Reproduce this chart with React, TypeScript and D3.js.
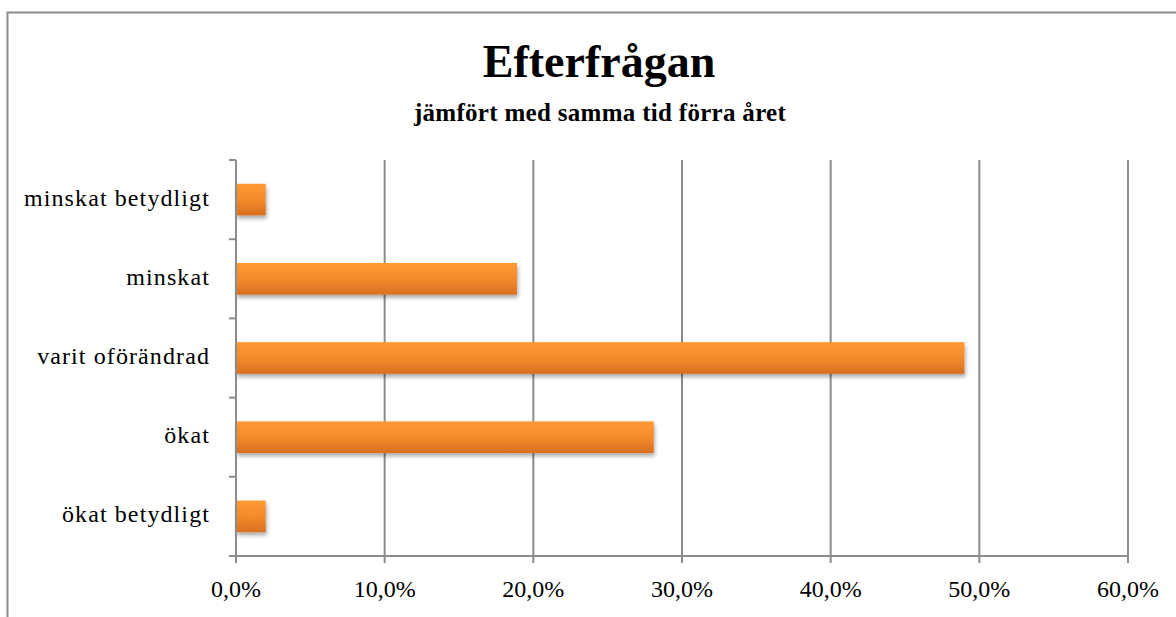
import React from "react";
import * as d3 from "d3";

const categories = ["minskat betydligt", "minskat", "varit oförändrad", "ökat", "ökat betydligt"];
const values = [2.0, 18.9, 49.0, 28.1, 2.0];
const xTicks = [0, 10, 20, 30, 40, 50, 60];
const title = "Efterfrågan";
const subtitle = "jämfört med samma tid förra året";

const W = 1176;
const H = 617;
const FONT = "'Liberation Serif', 'DejaVu Serif', serif";

export default function App() {
  const x = d3.scaleLinear().domain([0, 60]).range([236, 1128]);
  const y = d3.scaleBand().domain(categories).range([160, 556]).paddingInner(0).paddingOuter(0);
  const bw = y.bandwidth();
  const barH = bw * 0.4;
  const fmt = (v: number) => v.toFixed(1).replace(".", ",") + "%";
  const bandEdges = categories.map((c) => y(c) as number).concat([556]);

  return (
    <svg width={W} height={H} style={{ position: "absolute", left: 0, top: 0, background: "#fff" }}>
      <defs>
        <linearGradient id="barGrad" x1="0" y1="0" x2="0" y2="1">
          <stop offset="0" stopColor="#FF9A33" />
          <stop offset="0.5" stopColor="#F58A2C" />
          <stop offset="1" stopColor="#D96F20" />
        </linearGradient>
        <filter id="shadow" x="-10%" y="-30%" width="130%" height="180%">
          <feGaussianBlur in="SourceAlpha" stdDeviation="2" />
          <feOffset dx="1" dy="3" result="b" />
          <feComponentTransfer>
            <feFuncA type="linear" slope="0.35" />
          </feComponentTransfer>
          <feMerge>
            <feMergeNode />
            <feMergeNode in="SourceGraphic" />
          </feMerge>
        </filter>
      </defs>
      <rect x={7.5} y={12.5} width={W + 20} height={H + 20} fill="none" stroke="#8c8c8c" strokeWidth={2} />
      <text x={599} y={77} textAnchor="middle" fontFamily={FONT} fontWeight="bold" fontSize={46} fill="#000">
        {title}
      </text>
      <text x={600} y={121} textAnchor="middle" fontFamily={FONT} fontWeight="bold" fontSize={25} letterSpacing={0.3} fill="#000">
        {subtitle}
      </text>
      {xTicks.slice(1).map((t) => (
        <line key={"g" + t} x1={x(t)} x2={x(t)} y1={160} y2={556} stroke="#8c8c8c" strokeWidth={2} />
      ))}
      {categories.map((c, i) => (
        <rect
          key={c}
          x={x(0)}
          y={(y(c) as number) + (bw - barH) / 2}
          width={x(values[i]) - x(0)}
          height={barH}
          fill="url(#barGrad)"
          filter="url(#shadow)"
        />
      ))}
      <line x1={236} x2={236} y1={160} y2={556} stroke="#8c8c8c" strokeWidth={2} />
      <line x1={229} x2={1128} y1={556} y2={556} stroke="#8c8c8c" strokeWidth={2} />
      {bandEdges.map((e, i) => (
        <line key={"yt" + i} x1={229} x2={236} y1={e} y2={e} stroke="#8c8c8c" strokeWidth={2} />
      ))}
      {xTicks.map((t) => (
        <line key={"xt" + t} x1={x(t)} x2={x(t)} y1={556} y2={563} stroke="#8c8c8c" strokeWidth={2} />
      ))}
      {categories.map((c) => (
        <text
          key={"l" + c}
          x={210}
          y={(y(c) as number) + bw / 2 + 6}
          textAnchor="end"
          fontFamily={FONT}
          fontSize={24}
          letterSpacing={1.1}
          fill="#000"
        >
          {c}
        </text>
      ))}
      {xTicks.map((t) => (
        <text
          key={"xl" + t}
          x={x(t)}
          y={597}
          textAnchor="middle"
          fontFamily={FONT}
          fontSize={24}
          fill="#000"
        >
          {fmt(t)}
        </text>
      ))}
    </svg>
  );
}
